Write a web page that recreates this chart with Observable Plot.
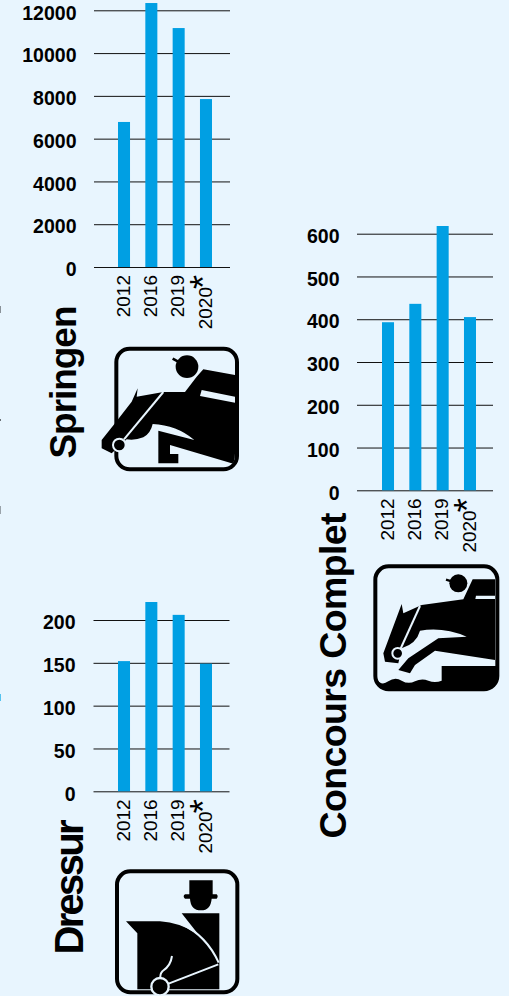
<!DOCTYPE html>
<html><head><meta charset="utf-8">
<script src="https://cdn.jsdelivr.net/npm/d3@7"></script>
<script src="https://cdn.jsdelivr.net/npm/@observablehq/plot@0.6"></script>
<style>
html,body{margin:0;padding:0;background:#e8f5fe;}
#page{position:relative;width:509px;height:996px;overflow:hidden;background:#e8f5fe;}
#page>svg,#page>div{position:absolute;}
#page svg{background:transparent;}
</style></head><body><div id="page"></div>
<script>
const years = ["2012","2016","2019","2020*"];
const springenValues = [6780,12340,11170,7850];
const springenTicks = [0,2000,4000,6000,8000,10000,12000];
const concoursValues = [393,436,618,405];
const concoursTicks = [0,100,200,300,400,500,600];
const dressurValues = [152,221,206,149];
const dressurTicks = [0,50,100,150,200];

const page = document.getElementById("page");
const FONT = '"Liberation Sans", Arial, sans-serif';
const BAR = "#009fe3";

function chart(o){
  const rows = years.map((year,i)=>({year,value:o.values[i]}));
  const p = Plot.plot({
    width:o.w, height:o.h,
    marginLeft:o.gridL, marginRight:o.w-o.gridR, marginTop:0, marginBottom:o.h-o.y0,
    style:{fontFamily:FONT,background:"transparent",overflow:"visible"},
    x:{type:"band",domain:years,range:[118,212],paddingInner:0.56,paddingOuter:0,round:false,axis:null},
    y:{domain:[0,o.ticks[o.ticks.length-1]],range:[o.y0,o.yTop],axis:null},
    marks:[
      Plot.ruleY(o.ticks,{stroke:"#111",strokeWidth:1}),
      Plot.barY(rows,{x:"year",y:"value",fill:BAR}),
      Plot.axisY({ticks:o.ticks,tickSize:0,tickPadding:o.gridL-o.labR,dy:2.5,tickFormat:d=>String(d),
        fontSize:19.5,fontWeight:"bold",fill:"#000",anchor:"left",label:null}),
      Plot.axisX({anchor:"bottom",tickSize:0,tickPadding:7.5,tickRotate:-90,fontSize:19,fill:"#000",label:null,dx:-1,
        textAnchor:"end",lineAnchor:"middle"}),
      Plot.text([o.title],{frameAnchor:"top-left",dx:o.tx-o.gridL,dy:o.ty,rotate:-90,textAnchor:"start",lineAnchor:"bottom",
        fontSize:o.ts,fontWeight:"bold",fill:"#000"})
    ]
  });
  p.style.left=o.left+"px"; p.style.top=o.top+"px"; p.style.overflow="visible";
  p.querySelectorAll("text").forEach(t=>{
    const c=t.textContent.trim();
    if(c==="2020*"){
      const tick=t.querySelector("tspan")||t;
      tick.textContent="2020";
      const s=document.createElementNS("http://www.w3.org/2000/svg","tspan");
      s.textContent="*";s.setAttribute("font-size","36");s.setAttribute("dy","4");s.setAttribute("dx","-2");
      tick.appendChild(s);
    }
    if(c===o.title){
      t.setAttribute("textLength",o.tl);t.setAttribute("lengthAdjust","spacing");
    }
  });
  page.appendChild(p);
}

chart({left:0,top:0,w:300,h:480,gridL:94,gridR:230,y0:267,yTop:10.3,ticks:springenTicks,values:springenValues,
  labR:76,title:"Springen",tx:75,ty:458,ts:37,tl:153});
chart({left:264,top:220,w:240,h:640,gridL:93,gridR:229,y0:270.3,yTop:13.7,ticks:concoursTicks,values:concoursValues,
  labR:75,title:"Concours Complet",tx:81,ty:618,ts:37.5,tl:326});
chart({left:0,top:596,w:240,h:400,gridL:93.5,gridR:229.5,y0:195.3,yTop:24,ticks:dressurTicks,values:dressurValues,
  labR:75,title:"Dressur",tx:82,ty:358,ts:40,tl:135});

const BG="#e8f5fe";
const icons = `<svg xmlns="http://www.w3.org/2000/svg" width="509" height="996" viewBox="0 0 1527 2988" style="left:0;top:0;pointer-events:none">
<g id="springen">
<rect x="349" y="1046" width="362" height="362" rx="40" fill="none" stroke="#000" stroke-width="12"/>
<path fill="#000" d="M610 1108L705 1125V1360Q705 1390 695 1390L510 1335V1362H535V1390H475V1292L583 1320Q530 1275 458 1272Q452 1300 430 1312Q405 1322 380 1318L335 1360L305 1345V1320L345 1270L395 1205L413 1165L410 1190L490 1176H555L590 1130Z"/>
<path fill="${BG}" d="M605 1170L705 1190V1208L600 1188Z"/>
<path d="M490 1176L372 1318" stroke="${BG}" stroke-width="6" fill="none"/>
<circle cx="358" cy="1335" r="19" fill="#000" stroke="${BG}" stroke-width="6"/>
<circle cx="561" cy="1100" r="34" fill="#000"/>
<path d="M518 1076L540 1088" stroke="#000" stroke-width="8"/>
</g>
<g id="concours" transform="translate(900,660)">
<rect x="226" y="1039" width="366" height="369" rx="40" fill="none" stroke="#000" stroke-width="12"/>
<path fill="#000" d="M518 1078H585V1320L405 1292L345 1335L330 1360L295 1350L325 1315L415 1255L500 1250Q430 1220 360 1232Q350 1270 305 1285L295 1330L255 1325L250 1300L305 1152L310 1180L365 1155L490 1138Z"/>
<path fill="${BG}" d="M528 1127H585V1137H526Z"/>
<path fill="#000" d="M585 1338H425V1382Q405 1390 385 1382T345 1384T305 1382T265 1384T232 1380V1390Q234 1408 262 1408H555Q592 1408 592 1375V1338Z"/>
<path d="M360 1158L300 1290" stroke="${BG}" stroke-width="6" fill="none"/>
<circle cx="293" cy="1300" r="16" fill="#000" stroke="${BG}" stroke-width="6"/>
<circle cx="475" cy="1090" r="27" fill="#000"/>
<path d="M438 1079L455 1084" stroke="#000" stroke-width="7"/>
</g>
<g id="dressur" transform="translate(0,1788)">
<rect x="351" y="826" width="361" height="363" rx="40" fill="none" stroke="#000" stroke-width="12"/>
<path fill="#000" d="M568 853H638V895H650Q656 901 650 908H635Q632 943 603 943Q572 943 570 908H555Q547 901 555 895H568Z"/>
<path fill="#000" d="M545 952H658V1180H412V1012L378 976H480Q600 985 658 1095Z"/>
<path d="M545 984Q620 1020 656 1100" stroke="${BG}" stroke-width="6" fill="none"/>
<path d="M655 1105L500 1165M516 1080Q512 1110 488 1125Q478 1135 482 1150" stroke="${BG}" stroke-width="6" fill="none"/>
<circle cx="480" cy="1172" r="26" fill="#000" stroke="${BG}" stroke-width="7"/>
</g>
</svg>`;
page.insertAdjacentHTML("beforeend",icons);
[[306,7,"#8a9299"],[419,2,"#6a7075"],[506,8,"#9aa3aa"],[694,7,"#55c3ef"]].forEach(([y,h,c])=>{
  const d=document.createElement("div");
  d.style.cssText=`left:0;top:${y}px;width:1px;height:${h}px;background:${c}`;
  page.appendChild(d);
});
</script></body></html>
